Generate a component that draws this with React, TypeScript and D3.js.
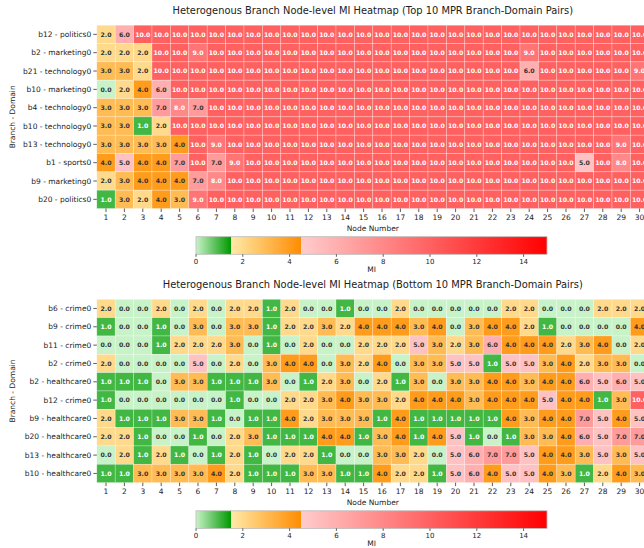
import React from 'react';
import * as d3 from 'd3';

const nodes = [1, 2, 3, 4, 5, 6, 7, 8, 9, 10, 11, 12, 13, 14, 15, 16, 17, 18, 19, 20, 21, 22, 23, 24, 25, 26, 27, 28, 29, 30];

const topLabels = [
  'b12 - politics0', 'b2 - marketing0', 'b21 - technology0', 'b10 - marketing0', 'b4 - technology0',
  'b10 - technology0', 'b13 - technology0', 'b1 - sports0', 'b9 - marketing0', 'b20 - politics0',
];
const topValues = [
  [2, 6, 10, 10, 10, 10, 10, 10, 10, 10, 10, 10, 10, 10, 10, 10, 10, 10, 10, 10, 10, 10, 10, 10, 10, 10, 10, 10, 10, 10],
  [2, 2, 2, 10, 10, 9, 10, 10, 10, 10, 10, 10, 10, 10, 10, 10, 10, 10, 10, 10, 10, 10, 10, 9, 10, 10, 10, 10, 10, 10],
  [3, 3, 2, 10, 10, 10, 10, 10, 10, 10, 10, 10, 10, 10, 10, 10, 10, 10, 10, 10, 10, 10, 10, 6, 10, 10, 10, 10, 10, 9],
  [0, 2, 4, 6, 10, 10, 10, 10, 10, 10, 10, 10, 10, 10, 10, 10, 10, 10, 10, 10, 10, 10, 10, 10, 10, 10, 10, 10, 10, 10],
  [3, 3, 3, 7, 8, 7, 10, 10, 10, 10, 10, 10, 10, 10, 10, 10, 10, 10, 10, 10, 10, 10, 10, 10, 10, 10, 10, 10, 10, 10],
  [3, 3, 1, 2, 10, 10, 10, 10, 10, 10, 10, 10, 10, 10, 10, 10, 10, 10, 10, 10, 10, 10, 10, 10, 10, 10, 10, 10, 10, 10],
  [3, 3, 3, 3, 4, 10, 9, 10, 10, 10, 10, 10, 10, 10, 10, 10, 10, 10, 10, 10, 10, 10, 10, 10, 10, 10, 10, 10, 9, 10],
  [4, 5, 4, 4, 7, 10, 7, 9, 10, 10, 10, 10, 10, 10, 10, 10, 10, 10, 10, 10, 10, 10, 10, 10, 10, 10, 5, 10, 8, 10],
  [2, 3, 4, 4, 4, 7, 8, 10, 10, 10, 10, 10, 10, 10, 10, 10, 10, 10, 10, 10, 10, 10, 10, 10, 10, 10, 10, 10, 10, 10],
  [1, 3, 2, 4, 3, 9, 10, 10, 10, 10, 10, 10, 10, 10, 10, 10, 10, 10, 10, 10, 10, 10, 10, 10, 10, 10, 10, 10, 10, 10],
];

const bottomLabels = [
  'b6 - crime0', 'b9 - crime0', 'b11 - crime0', 'b2 - crime0', 'b2 - healthcare0',
  'b12 - crime0', 'b9 - healthcare0', 'b20 - healthcare0', 'b13 - healthcare0', 'b10 - healthcare0',
];
const bottomValues = [
  [2, 0, 0, 2, 0, 2, 0, 2, 2, 1, 2, 0, 0, 1, 0, 0, 2, 0, 0, 0, 0, 0, 2, 2, 0, 0, 0, 2, 2, 2],
  [1, 0, 0, 1, 0, 3, 0, 3, 3, 1, 2, 2, 3, 2, 4, 4, 4, 3, 4, 0, 3, 4, 4, 2, 1, 0, 0, 0, 0, 4],
  [0, 0, 0, 1, 2, 2, 2, 3, 0, 1, 0, 2, 0, 0, 2, 2, 2, 5, 3, 2, 3, 6, 4, 4, 4, 2, 3, 4, 0, 2],
  [2, 0, 0, 0, 0, 5, 0, 2, 0, 3, 4, 4, 0, 3, 2, 4, 0, 3, 3, 5, 5, 1, 5, 5, 3, 4, 2, 3, 3, 0],
  [1, 1, 1, 0, 3, 3, 1, 1, 1, 3, 0, 1, 2, 3, 0, 2, 1, 3, 0, 3, 3, 4, 4, 3, 4, 4, 6, 5, 6, 5],
  [1, 0, 0, 0, 0, 0, 0, 1, 0, 0, 2, 2, 3, 4, 3, 3, 2, 4, 4, 4, 3, 4, 4, 4, 5, 4, 4, 1, 3, 10],
  [2, 1, 1, 1, 3, 3, 1, 0, 1, 1, 4, 2, 3, 3, 3, 1, 4, 1, 1, 1, 1, 1, 4, 3, 4, 4, 7, 5, 4, 5],
  [2, 2, 1, 0, 0, 1, 0, 2, 3, 1, 1, 1, 4, 4, 1, 3, 4, 1, 4, 5, 1, 0, 1, 3, 3, 4, 6, 5, 7, 7],
  [0, 2, 1, 2, 1, 0, 1, 2, 1, 0, 2, 2, 1, 0, 0, 3, 3, 2, 0, 5, 6, 7, 7, 5, 4, 4, 3, 5, 3, 5],
  [1, 1, 3, 3, 3, 3, 4, 2, 1, 1, 1, 3, 3, 1, 1, 4, 2, 2, 1, 5, 6, 4, 5, 5, 4, 3, 1, 2, 4, 3],
];

const cbTicks = [0, 2, 4, 6, 8, 10, 12, 14];

const FONT = '"DejaVu Sans", sans-serif';

// three-segment colormap: green, orange, red
const greenScale = d3.scaleLinear<string>().domain([0, 1.5]).range(['#c8f2c8', '#009900']).clamp(true);
const orangeScale = d3.scaleLinear<string>().domain([1.5, 4.5]).range(['#ffeaa8', '#ff8c00']).clamp(true);
const redScale = d3.scaleLinear<string>().domain([4.5, 15]).range(['#ffcccc', '#ff0000']).clamp(true);
const colorOf = (v: number) => (v < 1.5 ? greenScale(v) : v < 4.5 ? orangeScale(v) : redScale(v));
const textColor = (v: number) => (v === 1 || v >= 8 ? '#ffffff' : '#333333');

const Heatmap = ({ title, labels, values, top, id }: { title: string; labels: string[]; values: number[][]; top: number; id: string }) => {
  const left = 96.8;
  const cellW = 18.4;
  const cellH = 18.33;
  const x = d3.scaleBand<number>().domain(nodes).range([left, left + cellW * nodes.length]);
  const y = d3.scaleBand<string>().domain(labels.map((l, i) => i + '')).range([top, top + cellH * labels.length]);
  const bottom = top + cellH * labels.length;
  const midX = left + (cellW * nodes.length) / 2;
  const cb = d3.scaleLinear().domain([0, 15]).range([196, 547]);
  const cbTop = bottom + 28.2;
  const cbH = 17.6;

  return (
    <g>
      <text x={midX} y={top - 11.2} textAnchor="middle" fontSize={9.9} fontFamily={FONT} fill="#222">{title}</text>
      {values.map((row, i) =>
        row.map((v, j) => (
          <g key={`${i}-${j}`}>
            <rect x={x(nodes[j])} y={y(i + '')} width={x.bandwidth()} height={y.bandwidth()} fill={colorOf(v)} stroke="#ffffff" strokeOpacity={0.45} strokeWidth={0.6} />
            <text x={(x(nodes[j]) as number) + x.bandwidth() / 2} y={(y(i + '') as number) + y.bandwidth() / 2} dy="0.35em" textAnchor="middle" fontSize={6.2} fontWeight="bold" fontFamily={FONT} fill={textColor(v)}>
              {v.toFixed(1)}
            </text>
          </g>
        ))
      )}
      {labels.map((l, i) => {
        const cy = (y(i + '') as number) + y.bandwidth() / 2;
        return (
          <g key={l + i}>
            <line x1={left - 3.5} x2={left} y1={cy} y2={cy} stroke="#333" strokeWidth={0.8} />
            <text x={left - 5.5} y={cy} dy="0.35em" textAnchor="end" fontSize={7.5} fontFamily={FONT} fill="#222">{l}</text>
          </g>
        );
      })}
      {nodes.map((n) => {
        const cx = (x(n) as number) + x.bandwidth() / 2;
        return (
          <g key={'n' + n}>
            <line x1={cx} x2={cx} y1={bottom} y2={bottom + 3.5} stroke="#333" strokeWidth={0.8} />
            <text x={cx} y={bottom + 11} textAnchor="middle" fontSize={7.5} fontFamily={FONT} fill="#222">{n}</text>
          </g>
        );
      })}
      <text x={midX} y={bottom + 22} textAnchor="middle" fontSize={7.5} fontFamily={FONT} fill="#222">Node Number</text>
      <text transform={`translate(15,${(top + bottom) / 2}) rotate(-90)`} textAnchor="middle" fontSize={7.5} fontFamily={FONT} fill="#222">Branch - Domain</text>

      <defs>
        <linearGradient id={id} x1="0" x2="1" y1="0" y2="0">
          <stop offset="0" stopColor={greenScale(0)} />
          <stop offset={1.5 / 15} stopColor={greenScale(1.5)} />
          <stop offset={1.5 / 15} stopColor={orangeScale(1.5)} />
          <stop offset={4.5 / 15} stopColor={orangeScale(4.5)} />
          <stop offset={4.5 / 15} stopColor={redScale(4.5)} />
          <stop offset="1" stopColor={redScale(15)} />
        </linearGradient>
      </defs>
      <rect x={cb(0)} y={cbTop} width={cb(15) - cb(0)} height={cbH} fill={`url(#${id})`} stroke="#bbbbbb" strokeWidth={0.8} />
      {cbTicks.map((t) => (
        <g key={'t' + t}>
          <line x1={cb(t)} x2={cb(t)} y1={cbTop + cbH} y2={cbTop + cbH + 2.5} stroke="#333" strokeWidth={0.8} />
          <text x={cb(t)} y={cbTop + cbH + 9.3} textAnchor="middle" fontSize={7} fontFamily={FONT} fill="#222">{t}</text>
        </g>
      ))}
      <text x={(cb(0) + cb(15)) / 2} y={cbTop + cbH + 17.8} textAnchor="middle" fontSize={7.5} fontFamily={FONT} fill="#222">MI</text>
    </g>
  );
};

export default function App() {
  return (
    <svg width={644} height={548} style={{ position: 'absolute', left: 0, top: 0, background: '#fff' }}>
      <rect width={644} height={548} fill="#fff" />
      <Heatmap id="cbTop" title="Heterogenous Branch Node-level MI Heatmap (Top 10 MPR Branch-Domain Pairs)" labels={topLabels} values={topValues} top={25.2} />
      <Heatmap id="cbBot" title="Heterogenous Branch Node-level MI Heatmap (Bottom 10 MPR Branch-Domain Pairs)" labels={bottomLabels} values={bottomValues} top={299.3} />
    </svg>
  );
}
